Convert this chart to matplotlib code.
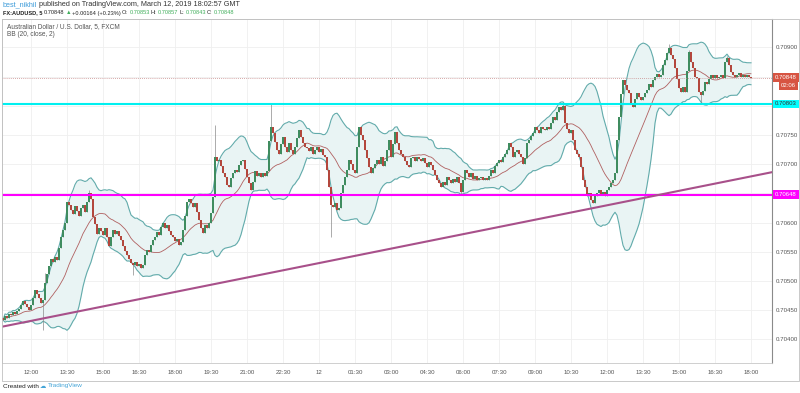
import numpy as np
import pandas as pd
import matplotlib
matplotlib.use('Agg')
import matplotlib.pyplot as plt
from matplotlib.patches import Rectangle

plt.rcParams['font.family'] = ['Liberation Sans', 'DejaVu Sans']

# AUDUSD 5 min closes, in 1e-5 above 0.70000
close_pts = [
    433, 440, 437, 444, 441, 447, 443, 449, 452, 458,
    466, 460, 455, 450, 458, 470, 484, 478, 470, 462,
    468, 497, 512, 526, 538, 532, 541, 536, 556, 575,
    588, 600, 636, 630, 622, 615, 628, 620, 612, 625,
    630, 618, 636, 650, 640, 610, 598, 580, 590, 585,
    578, 590, 575, 560, 575, 587, 580, 585, 577, 570,
    560, 552, 545, 537, 530, 527, 533, 525, 529, 523,
    528, 545, 553, 549, 562, 570, 575, 583, 579, 592,
    599, 590, 595, 585, 578, 575, 568, 572, 562, 566,
    587, 612, 636, 640, 633, 627, 634, 618, 605, 590,
    582, 596, 590, 600, 616, 644, 712, 705, 707, 696,
    685, 678, 665, 661, 676, 684, 690, 686, 698, 705,
    707, 692, 678, 668, 656, 670, 689, 680, 684, 678,
    684, 680, 688, 740, 763, 753, 738, 725, 718, 735,
    746, 730, 720, 736, 725, 718, 730, 745, 758, 747,
    736, 730, 728, 722, 730, 718, 724, 729, 720, 726,
    715, 712, 690, 660, 630, 627, 633, 621, 625, 650,
    664, 678, 690, 707, 700, 690, 684, 730, 763, 750,
    741, 725, 710, 695, 684, 693, 700, 707, 700, 712,
    696, 705, 724, 741, 712, 735, 755, 736, 725, 718,
    712, 705, 698, 695, 710, 712, 706, 712, 708, 706,
    710, 702, 695, 704, 698, 690, 681, 672, 668, 661,
    670, 664, 678, 672, 667, 675, 670, 678, 667, 652,
    672, 690, 684, 678, 684, 675, 680, 672, 676, 678,
    672, 676, 673, 680, 690, 685, 697, 702, 707, 704,
    712, 718, 724, 736, 730, 712, 720, 724, 718, 712,
    701, 710, 736, 742, 748, 753, 764, 758, 753, 764,
    760, 758, 764, 760, 770, 781, 775, 790, 798, 792,
    800, 770, 760, 753, 758, 741, 724, 718, 712, 695,
    672, 661, 645, 650, 639, 633, 645, 650, 656, 648,
    652, 645, 655, 661, 667, 672, 684, 741, 781, 820,
    844, 835, 827, 821, 805, 798, 812, 821, 815, 810,
    815, 822, 827, 838, 832, 844, 849, 855, 849, 852,
    870, 878, 890, 899, 887, 880, 864, 845, 830, 823,
    832, 823, 860, 892, 875, 864, 850, 847, 823, 818,
    825, 841, 838, 845, 852, 848, 852, 847, 850, 853,
    848, 875, 882, 870, 858, 852, 849, 853, 856, 850,
    853, 849, 852, 850, 848,
]
first_open_pts = 436

# long wicks that stick out
wick_high_bars = [21, 43, 106, 134, 280, 333, 343, 362]
wick_high_pts = [514, 656, 767, 804, 804, 905, 896, 886]
wick_low_bars = [20, 65, 164, 229, 349]
wick_low_pts = [416, 510, 575, 648, 805]

time_labels = ['12:00', '13:30', '15:00', '16:30', '18:00', '19:30', '21:00',
               '22:30', '12', '01:30', '03:00', '04:30', '06:00', '07:30',
               '09:00', '10:30', '12:00', '13:30', '15:00', '16:30', '18:00']

support = 0.70648      # magenta line
resistance = 0.70803   # cyan line
last_price = 0.70848
trend_pts = [(0, 0.70422), (374, 0.70679)]

closes = 0.70 + np.array(close_pts) / 1e5
opens = np.r_[0.70 + first_open_pts / 1e5, closes[:-1]]
highs = np.maximum(opens, closes)
lows = np.minimum(opens, closes)
highs[wick_high_bars] = 0.70 + np.array(wick_high_pts) / 1e5
lows[wick_low_bars] = 0.70 + np.array(wick_low_pts) / 1e5
x = np.arange(len(closes))
times = pd.date_range('2019-03-11 10:50', periods=len(closes), freq='5min')

s = pd.Series(closes)
basis = s.rolling(20, min_periods=1).mean()
dev = s.rolling(20, min_periods=1).std(ddof=0)
upper = basis + 2 * dev
lower = basis - 2 * dev

W, H = 800, 393
fig = plt.figure(figsize=(W / 100, H / 100), dpi=100)
ax = fig.add_axes([2 / W, 30 / H, 770 / W, 344 / H])

# bollinger bands
ax.fill_between(x, lower, upper, color='#e9f4f4', lw=0, zorder=1)
ax.plot(x, upper, color='#62abab', lw=0.8, zorder=2)
ax.plot(x, lower, color='#62abab', lw=0.8, zorder=2)
ax.plot(x, basis, color='#b06060', lw=0.6, zorder=2)

# candles
up = closes >= opens
ax.vlines(x, lows, highs, color='#8a8a8a', lw=0.5, zorder=3)
body = np.abs(closes - opens)
body = np.where(body < 1e-5, 1e-5, body)
ax.bar(x[up], body[up], bottom=opens[up], width=0.75, color='#3f8c5f', lw=0, zorder=4)
ax.bar(x[~up], body[~up], bottom=closes[~up], width=0.75, color='#b3473d', lw=0, zorder=4)

# drawings
ax.axhline(support, color='#ff00ff', lw=1.5, zorder=5)
ax.axhline(resistance, color='#00f0f0', lw=1.5, zorder=5)
ax.axhline(last_price, color='#c98a8a', lw=0.6, ls=(0, (1, 1.5)), zorder=5)
ax.axline(trend_pts[0], trend_pts[1], color='#a8508a', lw=1.5, zorder=5)

ax.set_xlim(-0.5, 384.5)
ax.set_ylim(0.703595, 0.709485)

tick_pos = [i for i, t in enumerate(times) if (t.hour * 60 + t.minute - 720) % 90 == 0]
ax.set_xticks(tick_pos)
ax.set_xticklabels(time_labels)
yt = np.arange(0.704, 0.70901, 0.0005)
ax.set_yticks(yt)
ax.set_yticklabels(['' if abs(v - 0.7085) < 1e-6 or abs(v - 0.708) < 1e-6 or abs(v - 0.7065) < 1e-6
                    else f'{v:.5f}' for v in yt])
ax.yaxis.tick_right()
ax.tick_params(axis='both', length=0, labelsize=4.4, colors='#555555')
ax.tick_params(axis='x', pad=5)
ax.tick_params(axis='y', pad=3)
ax.grid(True, color='#efefef', lw=0.6)
ax.set_axisbelow(True)
for side in ['left', 'top', 'bottom']:
    ax.spines[side].set_color('#c8c8c8')
    ax.spines[side].set_linewidth(0.6)
ax.spines['right'].set_color('#8a8a8a')
ax.spines['right'].set_linewidth(0.8)

# price axis labels
ytr = ax.get_yaxis_transform()
box = dict(boxstyle='square,pad=0.3', ec='none')
ax.text(1.004, last_price, '0.70848', transform=ytr, fontsize=4.3, color='white',
        va='center', bbox=dict(box, fc='#d75442'))
ax.text(1.012, last_price - 0.00014, '02:06', transform=ytr, fontsize=4.3, color='white',
        va='center', bbox=dict(box, fc='#d75442'))
ax.text(1.004, resistance, '0.70803', transform=ytr, fontsize=4.3, color='#333333',
        va='center', bbox=dict(box, fc='#00ffff'))
ax.text(1.004, support, '0.70648', transform=ytr, fontsize=4.3, color='white',
        va='center', bbox=dict(box, fc='#ff00ff'))

# pane legend
ax.text(5 / 770, 1 - 8 / 344, 'Australian Dollar / U.S. Dollar, 5, FXCM', transform=ax.transAxes,
        fontsize=4.7, color='#555555', va='center')
ax.text(5 / 770, 1 - 16 / 344, 'BB (20, close, 2)', transform=ax.transAxes,
        fontsize=4.7, color='#555555', va='center')

# outer frame
fig.patches.append(Rectangle((2 / W, 12 / H), 797 / W, 362 / H, transform=fig.transFigure,
                             fill=False, ec='#c0c0c0', lw=0.6))


def put_line(pieces, x0, y0, size, gap):
    fig.canvas.draw()
    r = fig.canvas.get_renderer()
    xp = x0
    for txt, col, wt in pieces:
        t = fig.text(xp / W, 1 - y0 / H, txt, color=col, fontsize=size, fontweight=wt, va='center')
        xp += t.get_window_extent(renderer=r).width + gap


green = '#3fae5a'
put_line([('best_nikhil', '#3a9ad9', 'normal'),
          ('published on TradingView.com, March 12, 2019 18:02:57 GMT', '#333333', 'normal')],
         3, 5, 5.2, 1.5)
put_line([('FX:AUDUSD, 5', '#222222', 'bold'), ('0.70848', '#222222', 'normal'),
          ('\u25b2', green, 'normal'), ('+0.00164 (+0.23%)', '#222222', 'normal'),
          ('O:', '#222222', 'normal'), ('0.70853', green, 'normal'),
          ('H:', '#222222', 'normal'), ('0.70857', green, 'normal'),
          ('L:', '#222222', 'normal'), ('0.70843', green, 'normal'),
          ('C:', '#222222', 'normal'), ('0.70848', green, 'normal')],
         3, 13, 4.1, 1.2)
put_line([('Created with', '#222222', 'normal'), ('\u2601', '#45a5d8', 'normal'),
          ('TradingView', '#45a5d8', 'normal')], 3, 386, 4.6, 1.2)

fig.savefig('out.png', dpi=100)
